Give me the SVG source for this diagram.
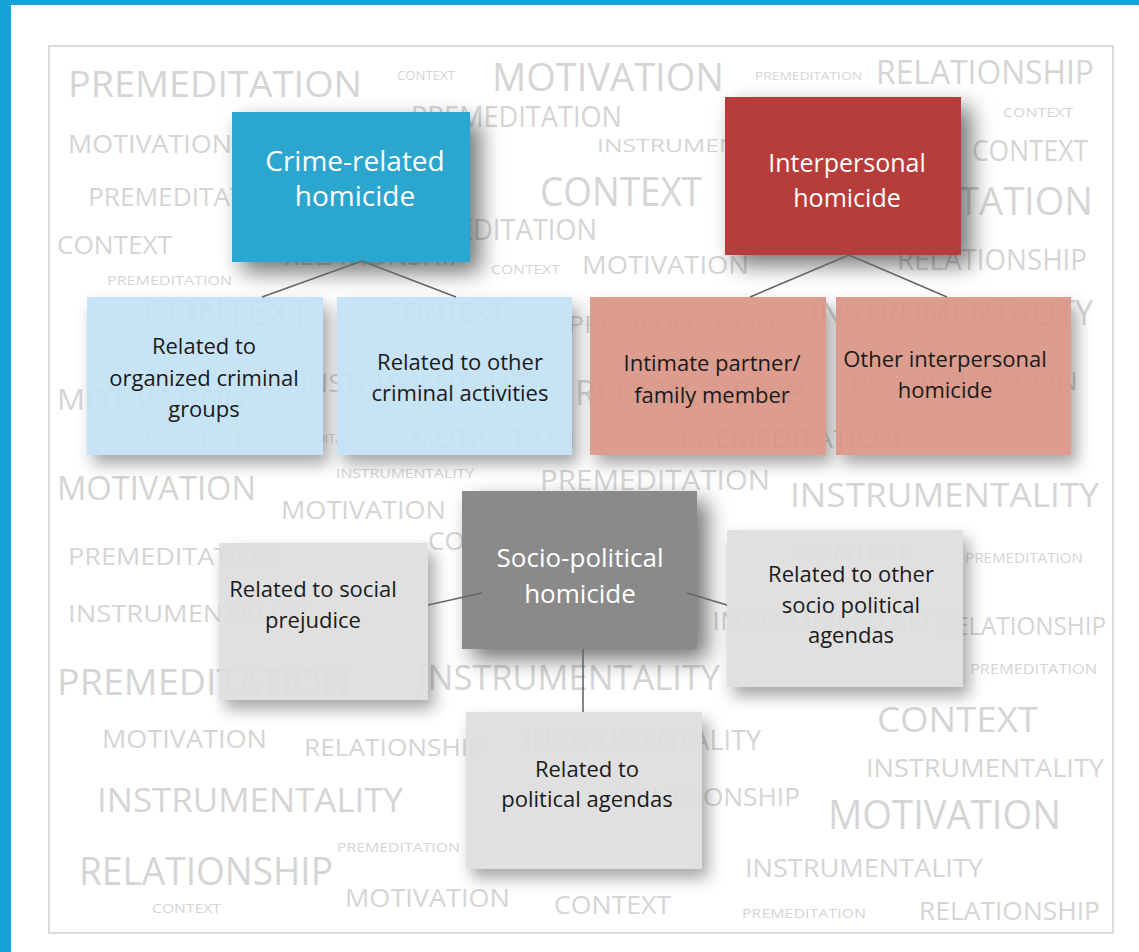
<svg xmlns="http://www.w3.org/2000/svg" width="1139" height="952" viewBox="0 0 1139 952">
<defs>
<filter id="sh" x="-25%" y="-25%" width="160%" height="160%">
<feGaussianBlur in="SourceAlpha" stdDeviation="11"/>
<feOffset dx="10" dy="10" result="b"/>
<feComposite in="b" in2="SourceAlpha" operator="out" result="o"/>
<feFlood flood-color="#000" flood-opacity="0.55"/>
<feComposite in2="o" operator="in" result="s"/>
<feMerge><feMergeNode in="s"/><feMergeNode in="SourceGraphic"/></feMerge>
</filter>
<filter id="sh2" x="-20%" y="-20%" width="150%" height="150%">
<feGaussianBlur in="SourceAlpha" stdDeviation="8"/>
<feOffset dx="6" dy="9" result="b"/>
<feComposite in="b" in2="SourceAlpha" operator="out" result="o"/>
<feFlood flood-color="#000" flood-opacity="0.38"/>
<feComposite in2="o" operator="in" result="s"/>
<feMerge><feMergeNode in="s"/><feMergeNode in="SourceGraphic"/></feMerge>
</filter>
</defs>
<style>
.w{font-family:"Open Sans","Liberation Sans",sans-serif;fill:#d5d5d5}
.p{fill-opacity:1}
.c{fill-opacity:0.93}
.hd{font-family:"Open Sans","Liberation Sans",sans-serif;fill:#ffffff;text-anchor:middle}
.lb{font-family:"Open Sans","Liberation Sans",sans-serif;fill:#1a1a1a;font-size:22px;text-anchor:middle}
.cn{stroke:#666;stroke-width:1.6;fill:none}
</style>
<rect x="0" y="0" width="1139" height="952" fill="#ffffff"/>
<rect x="0" y="0" width="11" height="952" fill="#12a4d9"/>
<rect x="0" y="0" width="1139" height="5" fill="#12a4d9"/>
<rect x="49" y="46" width="1064" height="887" fill="none" stroke="#dcdcdc" stroke-width="2"/>

<g id="background-words">
<text class="w" x="68" y="97" font-size="36" textLength="294" lengthAdjust="spacingAndGlyphs">PREMEDITATION</text>
<text class="w" x="397" y="80" font-size="12" textLength="58" lengthAdjust="spacingAndGlyphs">CONTEXT</text>
<text class="w" x="492" y="91" font-size="38" textLength="232" lengthAdjust="spacingAndGlyphs">MOTIVATION</text>
<text class="w" x="755" y="80" font-size="11" textLength="107" lengthAdjust="spacingAndGlyphs">PREMEDITATION</text>
<text class="w" x="876" y="84" font-size="32" textLength="218" lengthAdjust="spacingAndGlyphs">RELATIONSHIP</text>
<text class="w" x="411" y="127" font-size="30" textLength="211" lengthAdjust="spacingAndGlyphs">PREMEDITATION</text>
<text class="w" x="1003" y="117" font-size="13" textLength="70" lengthAdjust="spacingAndGlyphs">CONTEXT</text>
<text class="w" x="68" y="153" font-size="26" textLength="164" lengthAdjust="spacingAndGlyphs">MOTIVATION</text>
<text class="w" x="597" y="152" font-size="18" textLength="217" lengthAdjust="spacingAndGlyphs">INSTRUMENTALITY</text>
<text class="w" x="972" y="161" font-size="30" textLength="116" lengthAdjust="spacingAndGlyphs">CONTEXT</text>
<text class="w" x="88" y="206" font-size="26" textLength="204" lengthAdjust="spacingAndGlyphs">PREMEDITATION</text>
<text class="w" x="540" y="206" font-size="40" textLength="162" lengthAdjust="spacingAndGlyphs">CONTEXT</text>
<text class="w" x="797" y="215" font-size="38" textLength="296" lengthAdjust="spacingAndGlyphs">PREMEDITATION</text>
<text class="w" x="57" y="254" font-size="26" textLength="115" lengthAdjust="spacingAndGlyphs">CONTEXT</text>
<text class="w" x="385" y="240" font-size="30" textLength="212" lengthAdjust="spacingAndGlyphs">PREMEDITATION</text>
<text class="w" x="283" y="265" font-size="26" textLength="182" lengthAdjust="spacingAndGlyphs">RELATIONSHIP</text>
<text class="w" x="107" y="285" font-size="13" textLength="125" lengthAdjust="spacingAndGlyphs">PREMEDITATION</text>
<text class="w" x="491" y="274" font-size="13" textLength="69" lengthAdjust="spacingAndGlyphs">CONTEXT</text>
<text class="w" x="582" y="274" font-size="26" textLength="167" lengthAdjust="spacingAndGlyphs">MOTIVATION</text>
<text class="w" x="897" y="270" font-size="30" textLength="190" lengthAdjust="spacingAndGlyphs">RELATIONSHIP</text>
<text class="w" x="143" y="325" font-size="36" textLength="167" lengthAdjust="spacingAndGlyphs">CONTEXT</text>
<text class="w" x="385" y="322" font-size="28" textLength="120" lengthAdjust="spacingAndGlyphs">CONTEXT</text>
<text class="w" x="568" y="333" font-size="24" textLength="207" lengthAdjust="spacingAndGlyphs">PREMEDITATION</text>
<text class="w" x="810" y="325" font-size="34" textLength="283" lengthAdjust="spacingAndGlyphs">INSTRUMENTALITY</text>
<text class="w" x="57" y="410" font-size="30" textLength="190" lengthAdjust="spacingAndGlyphs">MOTIVATION</text>
<text class="w" x="300" y="392" font-size="26" textLength="240" lengthAdjust="spacingAndGlyphs">INSTRUMENTALITY</text>
<text class="w" x="575" y="405" font-size="34" textLength="230" lengthAdjust="spacingAndGlyphs">RELATIONSHIP</text>
<text class="w" x="850" y="390" font-size="26" textLength="228" lengthAdjust="spacingAndGlyphs">PREMEDITATION</text>
<text class="w" x="127" y="447" font-size="22" textLength="118" lengthAdjust="spacingAndGlyphs">CONTEXT</text>
<text class="w" x="275" y="443" font-size="12" textLength="98" lengthAdjust="spacingAndGlyphs">PREMEDITATION</text>
<text class="w" x="410" y="448" font-size="26" textLength="165" lengthAdjust="spacingAndGlyphs">MOTIVATION</text>
<text class="w" x="680" y="448" font-size="26" textLength="220" lengthAdjust="spacingAndGlyphs">PREMEDITATION</text>
<text class="w" x="57" y="500" font-size="32" textLength="199" lengthAdjust="spacingAndGlyphs">MOTIVATION</text>
<text class="w" x="336" y="478" font-size="13" textLength="138" lengthAdjust="spacingAndGlyphs">INSTRUMENTALITY</text>
<text class="w" x="540" y="490" font-size="28" textLength="230" lengthAdjust="spacingAndGlyphs">PREMEDITATION</text>
<text class="w" x="790" y="507" font-size="32" textLength="309" lengthAdjust="spacingAndGlyphs">INSTRUMENTALITY</text>
<text class="w" x="281" y="519" font-size="26" textLength="165" lengthAdjust="spacingAndGlyphs">MOTIVATION</text>
<text class="w" x="68" y="565" font-size="24" textLength="210" lengthAdjust="spacingAndGlyphs">PREMEDITATION</text>
<text class="w" x="428" y="550" font-size="26" textLength="115" lengthAdjust="spacingAndGlyphs">CONTEXT</text>
<text class="w" x="797" y="560" font-size="22" textLength="113" lengthAdjust="spacingAndGlyphs">CONTEXT</text>
<text class="w" x="965" y="563" font-size="14" textLength="118" lengthAdjust="spacingAndGlyphs">PREMEDITATION</text>
<text class="w" x="68" y="622" font-size="24" textLength="240" lengthAdjust="spacingAndGlyphs">INSTRUMENTALITY</text>
<text class="w" x="712" y="630" font-size="26" textLength="250" lengthAdjust="spacingAndGlyphs">INSTRUMENTALITY</text>
<text class="w" x="940" y="635" font-size="26" textLength="166" lengthAdjust="spacingAndGlyphs">RELATIONSHIP</text>
<text class="w" x="970" y="674" font-size="14" textLength="127" lengthAdjust="spacingAndGlyphs">PREMEDITATION</text>
<text class="w" x="57" y="695" font-size="36" textLength="293" lengthAdjust="spacingAndGlyphs">PREMEDITATION</text>
<text class="w" x="418" y="690" font-size="34" textLength="302" lengthAdjust="spacingAndGlyphs">INSTRUMENTALITY</text>
<text class="w" x="102" y="748" font-size="26" textLength="165" lengthAdjust="spacingAndGlyphs">MOTIVATION</text>
<text class="w" x="304" y="756" font-size="24" textLength="180" lengthAdjust="spacingAndGlyphs">RELATIONSHIP</text>
<text class="w" x="524" y="750" font-size="28" textLength="237" lengthAdjust="spacingAndGlyphs">INSTRUMENTALITY</text>
<text class="w" x="877" y="732" font-size="34" textLength="161" lengthAdjust="spacingAndGlyphs">CONTEXT</text>
<text class="w" x="97" y="812" font-size="32" textLength="306" lengthAdjust="spacingAndGlyphs">INSTRUMENTALITY</text>
<text class="w" x="620" y="806" font-size="26" textLength="180" lengthAdjust="spacingAndGlyphs">RELATIONSHIP</text>
<text class="w" x="866" y="777" font-size="26" textLength="238" lengthAdjust="spacingAndGlyphs">INSTRUMENTALITY</text>
<text class="w" x="828" y="829" font-size="40" textLength="233" lengthAdjust="spacingAndGlyphs">MOTIVATION</text>
<text class="w" x="337" y="852" font-size="13" textLength="123" lengthAdjust="spacingAndGlyphs">PREMEDITATION</text>
<text class="w" x="79" y="885" font-size="38" textLength="254" lengthAdjust="spacingAndGlyphs">RELATIONSHIP</text>
<text class="w" x="745" y="877" font-size="26" textLength="238" lengthAdjust="spacingAndGlyphs">INSTRUMENTALITY</text>
<text class="w" x="152" y="913" font-size="12" textLength="69" lengthAdjust="spacingAndGlyphs">CONTEXT</text>
<text class="w" x="345" y="907" font-size="26" textLength="165" lengthAdjust="spacingAndGlyphs">MOTIVATION</text>
<text class="w" x="554" y="914" font-size="26" textLength="117" lengthAdjust="spacingAndGlyphs">CONTEXT</text>
<text class="w" x="742" y="918" font-size="13" textLength="124" lengthAdjust="spacingAndGlyphs">PREMEDITATION</text>
<text class="w" x="919" y="920" font-size="26" textLength="181" lengthAdjust="spacingAndGlyphs">RELATIONSHIP</text>
</g>

<g id="node-crime">
<rect class="p" x="232" y="112" width="238" height="150" fill="#2aa6cf" filter="url(#sh)"/>
<text class="hd" x="355" y="171" font-size="28">Crime-related</text>
<text class="hd" x="355" y="206" font-size="28">homicide</text>
</g>
<g id="node-interpersonal">
<rect class="p" x="725" y="97" width="236" height="158" fill="#b73d3a" filter="url(#sh)"/>
<text class="hd" x="847" y="172" font-size="25">Interpersonal</text>
<text class="hd" x="847" y="207" font-size="25">homicide</text>
</g>
<g id="node-organized">
<rect class="c" x="87" y="297" width="236" height="158" fill="#c3e1f5" filter="url(#sh2)"/>
<text class="lb" x="204" y="354">Related to</text>
<text class="lb" x="204" y="386">organized criminal</text>
<text class="lb" x="204" y="417">groups</text>
</g>
<g id="node-other-criminal">
<rect class="c" x="337" y="297" width="235" height="158" fill="#c3e1f5" filter="url(#sh2)"/>
<text class="lb" x="460" y="370">Related to other</text>
<text class="lb" x="460" y="401">criminal activities</text>
</g>
<g id="node-intimate">
<rect class="c" x="590" y="297" width="236" height="158" fill="#d99585" filter="url(#sh2)"/>
<text class="lb" x="712" y="371">Intimate partner/</text>
<text class="lb" x="712" y="403">family member</text>
</g>
<g id="node-other-interpersonal">
<rect class="c" x="836" y="297" width="235" height="158" fill="#d99585" filter="url(#sh2)"/>
<text class="lb" x="945" y="367">Other interpersonal</text>
<text class="lb" x="945" y="398">homicide</text>
</g>
<g id="node-socio">
<rect class="p" x="462" y="491" width="235" height="158" fill="#8a8a8a" filter="url(#sh)"/>
<text class="hd" x="580" y="567" font-size="26">Socio-political</text>
<text class="hd" x="580" y="603" font-size="26">homicide</text>
</g>
<g id="node-social-prejudice">
<rect class="c" x="219" y="543" width="209" height="157" fill="#dedede" filter="url(#sh2)"/>
<text class="lb" x="313" y="597">Related to social</text>
<text class="lb" x="313" y="628">prejudice</text>
</g>
<g id="node-other-socio">
<rect class="c" x="727" y="530" width="236" height="157" fill="#dedede" filter="url(#sh2)"/>
<text class="lb" x="851" y="582">Related to other</text>
<text class="lb" x="851" y="613">socio political</text>
<text class="lb" x="851" y="643">agendas</text>
</g>
<g id="node-political">
<rect class="c" x="466" y="712" width="236" height="157" fill="#dedede" filter="url(#sh2)"/>
<text class="lb" x="587" y="777">Related to</text>
<text class="lb" x="587" y="807">political agendas</text>
</g>

<g id="connectors">
<path class="cn" d="M362 261 L262 297 M362 261 L456 297"/>
<path class="cn" d="M849 255 L750 297 M849 255 L947 297"/>
<path class="cn" d="M428 605 L482 593 M687 593 L727 605 M583 649 L583 712"/>
</g>
</svg>
